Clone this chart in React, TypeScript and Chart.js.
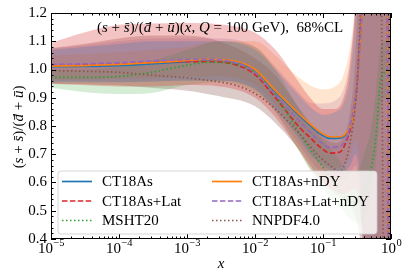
import React, { useEffect, useRef } from "react";
import { Chart, registerables } from "chart.js";
Chart.register(...registerables);

// ---------- data ----------
const LX = [1e-5, 3e-5, 1e-4, 3e-4, 1e-3, 2e-3, 5e-3, 1e-2, 2e-2, 0.046, 0.064, 0.09, 0.127, 0.178, 0.225, 0.267, 0.286, 0.306, 0.316, 0.34, 0.375, 0.42, 0.5, 0.6, 0.7, 0.8, 0.88, 0.92, 1.0];
const CT18As = [1.01, 1.011, 1.014, 1.02, 1.028, 1.033, 1.028, 0.998, 0.922, 0.835, 0.803, 0.773, 0.756, 0.757, 0.776, 0.812, 0.858, 0.908, 0.943, 1.05, 1.2, 1.38, 1.55, 1.6, 1.6, 1.6, 1.55, 0.2, 0.1];
const CT18As_Lat = [1.015, 1.017, 1.02, 1.025, 1.028, 1.028, 1.018, 0.982, 0.9, 0.793, 0.76, 0.726, 0.704, 0.708, 0.752, 0.814, 0.86, 0.91, 0.945, 1.06, 1.22, 1.4, 1.55, 1.6, 1.6, 1.6, 1.55, 0.2, 0.1];
const MSHT20 = [0.972, 0.972, 0.975, 0.99, 1.015, 1.025, 1.02, 0.99, 0.91, 0.77, 0.72, 0.67, 0.62, 0.57, 0.54, 0.53, 0.53, 0.535, 0.54, 0.55, 0.56, 0.58, 0.64, 0.76, 0.96, 0.99, 1.0, 1.0, 1.005];
const CT18As_nDY = [1.012, 1.014, 1.018, 1.024, 1.032, 1.036, 1.03, 1.0, 0.925, 0.839, 0.808, 0.779, 0.762, 0.762, 0.779, 0.814, 0.86, 0.91, 0.945, 1.05, 1.2, 1.38, 1.55, 1.6, 1.6, 1.6, 1.55, 0.2, 0.1];
const CT18As_Lat_nDY = [1.018, 1.02, 1.024, 1.03, 1.035, 1.036, 1.025, 0.99, 0.91, 0.815, 0.78, 0.745, 0.724, 0.728, 0.762, 0.83, 0.87, 0.92, 0.955, 1.06, 1.22, 1.4, 1.55, 1.6, 1.6, 1.6, 1.55, 0.2, 0.1];
const NNPDF40 = [0.996, 0.994, 0.99, 0.98, 0.97, 0.962, 0.945, 0.915, 0.86, 0.77, 0.73, 0.69, 0.66, 0.64, 0.69, 0.78, 0.83, 0.9, 0.94, 1.1, 1.35, 1.5, 1.6, 1.6, 1.5, 0.0, -0.1, -0.1, -0.1];

// uncertainty bands (68% CL)
const BX = [1e-5, 3e-5, 1e-4, 3e-4, 1e-3, 3e-3, 1e-2, 2e-2, 4e-2, 7e-2, 0.1, 0.15, 0.2, 0.25, 0.3, 0.35, 0.4, 0.5, 0.6, 0.7, 0.8, 0.9, 1.0];
const CT18As_lo = [0.955, 0.955, 0.955, 0.957, 0.96, 0.96, 0.93, 0.86, 0.77, 0.69, 0.66, 0.64, 0.64, 0.66, 0.7, 0.6, 0.3, -0.5, -1, -1, -1, -1, -1];
const CT18As_hi = [1.07, 1.08, 1.09, 1.1, 1.1, 1.1, 1.07, 1.0, 0.92, 0.86, 0.84, 0.85, 0.88, 0.98, 1.2, 1.6, 2, 3, 3, 3, 3, 3, 3];
const CT18As_Lat_lo = [0.95, 0.945, 0.94, 0.94, 0.945, 0.94, 0.9, 0.83, 0.73, 0.64, 0.6, 0.57, 0.56, 0.57, 0.58, 0.5, 0.3, -0.5, -1, -1, -1, -1, -1];
const CT18As_Lat_hi = [1.094, 1.13, 1.158, 1.163, 1.165, 1.16, 1.13, 1.07, 0.97, 0.89, 0.86, 0.86, 0.9, 1.02, 1.25, 1.7, 2.2, 3, 3, 3, 3, 3, 3];
const MSHT20_lo = [0.935, 0.92, 0.913, 0.917, 0.945, 0.955, 0.92, 0.85, 0.73, 0.63, 0.58, 0.53, 0.5, 0.47, 0.46, 0.45, 0.47, 0.55, 0.68, 0.85, 0.9, 0.9, 0.9];
const MSHT20_hi = [1.0, 1.0, 1.01, 1.03, 1.07, 1.1, 1.08, 1.0, 0.88, 0.79, 0.75, 0.7, 0.66, 0.64, 0.64, 0.66, 0.7, 0.78, 0.92, 1.08, 1.1, 1.1, 1.1];
const CT18As_nDY_lo = [0.965, 0.965, 0.967, 0.97, 0.975, 0.975, 0.945, 0.875, 0.78, 0.7, 0.67, 0.65, 0.66, 0.69, 0.75, 0.65, 0.35, -0.5, -1, -1, -1, -1, -1];
const CT18As_nDY_hi = [1.05, 1.055, 1.06, 1.07, 1.08, 1.1, 1.1, 1.05, 0.98, 0.94, 0.93, 0.94, 0.98, 1.08, 1.25, 1.6, 2, 3, 3, 3, 3, 3, 3];
const CT18As_Lat_nDY_lo = [0.96, 0.958, 0.956, 0.958, 0.962, 0.96, 0.93, 0.85, 0.75, 0.67, 0.63, 0.61, 0.61, 0.63, 0.66, 0.55, 0.3, -0.5, -1, -1, -1, -1, -1];
const CT18As_Lat_nDY_hi = [1.075, 1.085, 1.1, 1.11, 1.11, 1.11, 1.08, 1.01, 0.93, 0.88, 0.88, 0.89, 0.93, 1.04, 1.25, 1.65, 2.1, 3, 3, 3, 3, 3, 3];
const NNPDF40_lo = [0.95, 0.948, 0.944, 0.935, 0.925, 0.905, 0.87, 0.81, 0.73, 0.65, 0.6, 0.56, 0.54, 0.52, 0.48, 0.4, 0.2, -0.5, -1, -1, -1, -1, -1];
const NNPDF40_hi = [1.075, 1.09, 1.11, 1.12, 1.12, 1.1, 1.04, 0.98, 0.88, 0.8, 0.76, 0.74, 0.76, 0.85, 1.05, 1.5, 2, 3, 3, 3, 3, 3, 3];

const SERIES_NAMES = ["CT18As", "CT18As+Lat", "MSHT20", "CT18As+nDY", "CT18As+Lat+nDY", "NNPDF4.0"];
const X_TICK_EXPONENTS = [-5, -4, -3, -2, -1, 0];
const Y_MIN = 0.4;
const Y_MAX = 1.2;

// ---------- styles ----------
const COLORS = ["#1f77b4", "#d62728", "#2ca02c", "#ff7f0e", "#9467bd", "#8c564b"];
const DASHES: number[][] = [[], [5.5, 2.4], [1.5, 2.5], [], [5.5, 2.4], [1.5, 2.5]];
const BAND_ALPHAS = [0.22, 0.28, 0.2, 0.2, 0.22, 0.3];
const LINES = [CT18As, CT18As_Lat, MSHT20, CT18As_nDY, CT18As_Lat_nDY, NNPDF40];
const BANDS = [
  [CT18As_lo, CT18As_hi],
  [CT18As_Lat_lo, CT18As_Lat_hi],
  [MSHT20_lo, MSHT20_hi],
  [CT18As_nDY_lo, CT18As_nDY_hi],
  [CT18As_Lat_nDY_lo, CT18As_Lat_nDY_hi],
  [NNPDF40_lo, NNPDF40_hi],
];
const SERIF = "'Liberation Serif', 'DejaVu Serif', serif";

function hexA(hex: string, a: number) {
  const r = parseInt(hex.slice(1, 3), 16), g = parseInt(hex.slice(3, 5), 16), b = parseInt(hex.slice(5, 7), 16);
  return `rgba(${r},${g},${b},${a})`;
}

type Run = { t: string; it?: boolean; bar?: boolean };
function runsWidth(ctx: CanvasRenderingContext2D, runs: Run[], size: number) {
  let w = 0;
  for (const r of runs) {
    ctx.font = `${r.it ? "italic " : ""}${size}px ${SERIF}`;
    w += ctx.measureText(r.t).width;
  }
  return w;
}
function drawRuns(ctx: CanvasRenderingContext2D, runs: Run[], x: number, y: number, size: number) {
  let cx = x;
  for (const r of runs) {
    ctx.font = `${r.it ? "italic " : ""}${size}px ${SERIF}`;
    const w = ctx.measureText(r.t).width;
    ctx.fillText(r.t, cx, y);
    if (r.bar) {
      ctx.save();
      ctx.lineWidth = 0.9;
      ctx.beginPath();
      ctx.moveTo(cx + w * 0.25, y - size * 0.56);
      ctx.lineTo(cx + w * 0.95, y - size * 0.56);
      ctx.stroke();
      ctx.restore();
    }
    cx += w;
  }
}

const RATIO_RUNS: Run[] = [
  { t: "(" }, { t: "s", it: true }, { t: " + " }, { t: "s", it: true, bar: true }, { t: ")/(" },
  { t: "d", it: true, bar: true }, { t: " + " }, { t: "u", it: true, bar: true }, { t: ")" },
];
const TITLE_RUNS: Run[] = [
  ...RATIO_RUNS, { t: "(" }, { t: "x", it: true }, { t: ", " }, { t: "Q", it: true }, { t: " = " },
  { t: "100 GeV),  68%CL" },
];

const mplPlugin = {
  id: "mplAxes",
  afterDatasetsDraw(chart: any) {
    const { ctx, chartArea: a, scales } = chart;
    const xs = scales.x, ys = scales.y;
    ctx.save();
    ctx.strokeStyle = "#000";
    ctx.fillStyle = "#000";
    ctx.lineWidth = 1;
    // frame
    ctx.strokeRect(a.left + 0.5, a.top + 0.5, a.right - a.left - 1, a.bottom - a.top - 1);
    // x ticks
    ctx.beginPath();
    for (const e of X_TICK_EXPONENTS) {
      const base = Math.pow(10, e);
      for (let k = 1; k <= 9; k++) {
        const v = base * k;
        if (v > 1.0000001) break;
        const px = Math.round(xs.getPixelForValue(v)) + 0.5;
        const len = k === 1 ? 5 : 2.5;
        ctx.moveTo(px, a.bottom); ctx.lineTo(px, a.bottom - len);
        ctx.moveTo(px, a.top); ctx.lineTo(px, a.top + len);
      }
    }
    // y ticks
    for (let i = 0; i <= 40; i++) {
      const v = Y_MIN + i * 0.02;
      const py = Math.round(ys.getPixelForValue(v)) + 0.5;
      const len = i % 5 === 0 ? 5 : 2.5;
      ctx.moveTo(a.left, py); ctx.lineTo(a.left + len, py);
      ctx.moveTo(a.right, py); ctx.lineTo(a.right - len, py);
    }
    ctx.stroke();

    // x tick labels 10^e
    ctx.textBaseline = "alphabetic";
    ctx.textAlign = "left";
    for (const e of X_TICK_EXPONENTS) {
      const px = xs.getPixelForValue(Math.pow(10, e));
      const expStr = e < 0 ? "\u2212" + Math.abs(e) : String(e);
      ctx.font = `15px ${SERIF}`;
      const w1 = ctx.measureText("10").width;
      ctx.font = `10.5px ${SERIF}`;
      const w2 = ctx.measureText(expStr).width;
      const x0 = px - (w1 + w2) / 2;
      ctx.font = `15px ${SERIF}`;
      ctx.fillText("10", x0, a.bottom + 14);
      ctx.font = `10.5px ${SERIF}`;
      ctx.fillText(expStr, x0 + w1 + 0.5, a.bottom + 7);
    }
    // x axis label
    ctx.font = `italic 15px ${SERIF}`;
    ctx.textAlign = "center";
    ctx.fillText("x", (a.left + a.right) / 2, a.bottom + 29);
    ctx.textAlign = "left";

    // y axis label (rotated)
    ctx.save();
    ctx.translate(23, (a.top + a.bottom) / 2 + 1);
    ctx.rotate(-Math.PI / 2);
    const yw = runsWidth(ctx, RATIO_RUNS, 15);
    drawRuns(ctx, RATIO_RUNS, -yw / 2, 0, 15);
    ctx.restore();

    // title inside axes
    drawRuns(ctx, TITLE_RUNS, a.left + 46, a.top + 19, 15);

    // legend
    const lx = a.left + 7, ly = a.top + 158, lw = 319, lh = 63, r = 3;
    ctx.beginPath();
    ctx.moveTo(lx + r, ly);
    ctx.arcTo(lx + lw, ly, lx + lw, ly + lh, r);
    ctx.arcTo(lx + lw, ly + lh, lx, ly + lh, r);
    ctx.arcTo(lx, ly + lh, lx, ly, r);
    ctx.arcTo(lx, ly, lx + lw, ly, r);
    ctx.closePath();
    ctx.fillStyle = "rgba(255,255,255,0.8)";
    ctx.fill();
    ctx.strokeStyle = "rgba(204,204,204,0.8)";
    ctx.lineWidth = 1;
    ctx.stroke();
    const colX = [lx + 4, lx + 154];
    const rowY = [ly + 10.5, ly + 30, ly + 49.5];
    for (let i = 0; i < SERIES_NAMES.length; i++) {
      const c = Math.floor(i / 3), rr = i % 3;
      const x = colX[c], y = rowY[rr];
      ctx.save();
      ctx.strokeStyle = COLORS[i];
      ctx.lineWidth = 1.7;
      ctx.setLineDash(DASHES[i]);
      ctx.beginPath();
      ctx.moveTo(x, y); ctx.lineTo(x + 30, y);
      ctx.stroke();
      ctx.restore();
      ctx.fillStyle = "#000";
      ctx.font = `15px ${SERIF}`;
      ctx.textBaseline = "middle";
      ctx.fillText(SERIES_NAMES[i], x + 40, y + 1);
    }
    ctx.restore();
  },
};

export default function App() {
  const ref = useRef<HTMLCanvasElement>(null);
  useEffect(() => {
    const canvas = ref.current!;
    const datasets: any[] = [];
    const lineOrder = [5, 4, 3, 2, 1, 0];
    LINES.forEach((vals, i) => {
      datasets.push({
        label: SERIES_NAMES[i],
        data: LX.map((x, j) => ({ x, y: vals[j] })),
        borderColor: COLORS[i],
        borderWidth: 1.7,
        borderDash: DASHES[i],
        pointRadius: 0,
        fill: false,
        cubicInterpolationMode: "monotone",
        order: lineOrder[i],
      });
    });
    BANDS.forEach(([lo, hi], i) => {
      datasets.push({
        label: SERIES_NAMES[i] + " lo",
        data: BX.map((x, j) => ({ x, y: lo[j] })),
        borderWidth: 0,
        borderColor: "rgba(0,0,0,0)",
        pointRadius: 0,
        fill: false,
        cubicInterpolationMode: "monotone",
        order: 20 + i,
      });
      datasets.push({
        label: SERIES_NAMES[i] + " hi",
        data: BX.map((x, j) => ({ x, y: hi[j] })),
        borderWidth: 0,
        borderColor: "rgba(0,0,0,0)",
        backgroundColor: hexA(COLORS[i], BAND_ALPHAS[i]),
        pointRadius: 0,
        fill: "-1",
        cubicInterpolationMode: "monotone",
        order: 20 + i,
      });
    });

    const chart = new Chart(canvas, {
      type: "line",
      data: { datasets },
      options: {
        responsive: false,
        animation: false,
        events: [],
        layout: { padding: { top: 13, right: 16, left: 0, bottom: 0 } },
        plugins: { legend: { display: false }, tooltip: { enabled: false }, title: { display: false } },
        scales: {
          x: {
            type: "logarithmic",
            min: 1e-5,
            max: 1,
            grid: { display: false, drawTicks: false },
            border: { display: false },
            ticks: { display: false },
            afterFit: (s: any) => { s.height = 32; },
          },
          y: {
            type: "linear",
            min: Y_MIN,
            max: Y_MAX,
            grid: { display: false, drawTicks: false },
            border: { display: false },
            ticks: {
              stepSize: 0.1,
              padding: 4,
              color: "#000",
              font: { family: SERIF, size: 15 },
              callback: (v: any) => Number(v).toFixed(1),
            },
            afterFit: (s: any) => { s.width = 51; },
          },
        },
      } as any,
      plugins: [mplPlugin],
    });
    return () => chart.destroy();
  }, []);

  return (
    <div style={{ position: "fixed", left: 0, top: 0, width: 407, height: 271, background: "#fff" }}>
      <canvas ref={ref} width={407} height={271} style={{ display: "block" }} />
    </div>
  );
}
